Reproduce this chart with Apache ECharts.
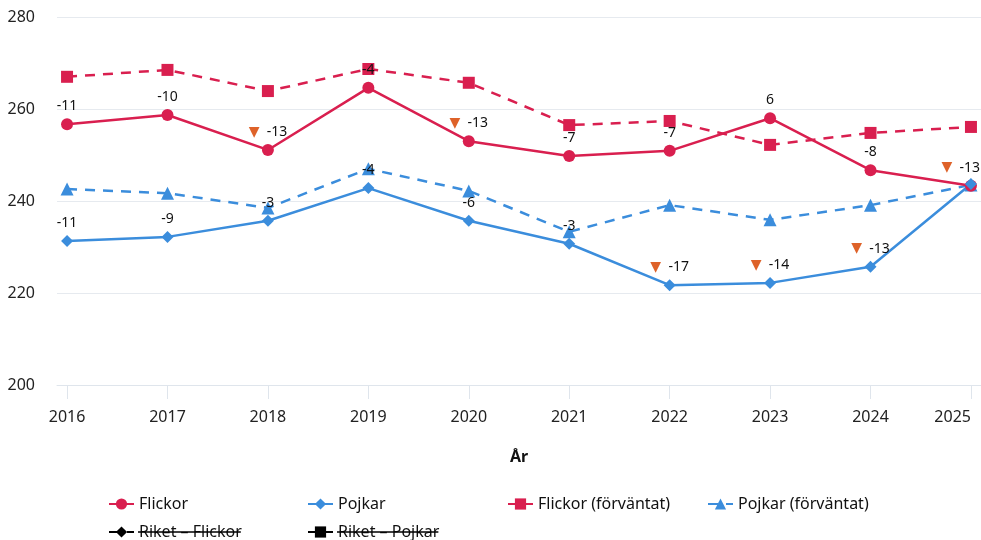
<!DOCTYPE html>
<html>
<head>
<meta charset="utf-8">
<script src="https://cdn.jsdelivr.net/npm/echarts@6/dist/echarts.min.js"></script>
<style>html,body{margin:0;padding:0;background:#fff;}#c{width:981px;height:540px;}</style>
</head>
<body>
<div id="c"></div>
<script>
var years = [2016, 2017, 2018, 2019, 2020, 2021, 2022, 2023, 2024, 2025];
var flickor = [256.7, 258.7, 251.1, 264.6, 253.0, 249.8, 250.9, 258.0, 246.7, 243.3];
var pojkar = [231.3, 232.2, 235.7, 242.8, 235.7, 230.7, 221.7, 222.2, 225.7, 243.7];
var flickorExp = [267.0, 268.5, 263.9, 268.7, 265.7, 256.5, 257.4, 252.2, 254.8, 256.1];
var pojkarExp = [242.6, 241.7, 238.5, 247.0, 242.2, 233.3, 239.1, 235.9, 239.1, 243.5];
var flickorDiff = [-11, -10, -13, -4, -13, -7, -7, 6, -8, -13];
var flickorSig = [0, 0, 1, 0, 1, 0, 0, 0, 0, 1];
var pojkarDiff = [-11, -9, -3, -4, -6, -3, -17, -14, -13, null];
var pojkarSig = [0, 0, 0, 0, 0, 0, 1, 1, 1, 0];
var yTicks = [200, 220, 240, 260, 280];
var legendRow1 = ['Flickor', 'Pojkar', 'Flickor (förväntat)', 'Pojkar (förväntat)'];
var legendRow2 = ['Riket – Flickor', 'Riket – Pojkar'];

var FONT = 'Noto Sans';
var RED = '#d91f4f', BLUE = '#3b8ddc', ORANGE = '#de6229';

function pts(vals, diffs, sig) {
  return years.map(function (y, i) {
    return { value: [y, vals[i]], diff: diffs ? diffs[i] : null, sig: sig ? sig[i] : 0 };
  });
}
function labelCfg() {
  return {
    show: true, position: 'top', distance: 5,
    fontFamily: FONT, fontSize: 14, color: '#111',
    formatter: function (p) {
      var d = p.data.diff;
      if (d === null || d === undefined) return '';
      return p.data.sig ? '{t|▼}  ' + d : '' + d;
    },
    rich: { t: { fontFamily: 'DejaVu Sans', fontSize: 14, color: ORANGE } }
  };
}
function keepInside(params) {
  var r = params.labelRect;
  if (r.x + r.width > 980) {
    return { x: 980, y: r.y + r.height / 2, align: 'right', verticalAlign: 'middle' };
  }
  return {};
}
var COLS = [108, 307, 507, 707];
var ROWS = [496, 524];
function leg(name, col, row) {
  return { left: COLS[col], top: ROWS[row], itemWidth: 25, itemHeight: 14, padding: 0, itemGap: 0,
    textStyle: { fontFamily: FONT, fontSize: 16, color: '#111' }, data: [name] };
}
var legends = [];
legendRow1.forEach(function (n, i) { legends.push(leg(n, i, 0)); });
legendRow2.forEach(function (n, i) { legends.push(leg(n, i, 1)); });

// strike-through for the inactive "Riket" entries
var cv = document.createElement('canvas').getContext('2d');
cv.font = '16px "' + FONT + '"';
var strikes = legendRow2.map(function (n, i) {
  var x0 = COLS[i] + 25 + 5;
  var w = cv.measureText(n).width;
  return { type: 'line', shape: { x1: x0, y1: 532, x2: x0 + w, y2: 532 },
    style: { stroke: '#000', lineWidth: 1.5 }, silent: true, z: 100 };
});

var chart = echarts.init(document.getElementById('c'), null, { renderer: 'canvas' });
chart.setOption({
  animation: false,
  textStyle: { fontFamily: FONT },
  grid: { left: 57, right: 0, top: 17, bottom: 155, containLabel: false, outerBoundsMode: 'none' },
  xAxis: {
    type: 'value', min: 2015.9, max: 2025.1,
    name: 'År', nameLocation: 'middle', nameGap: 64,
    nameTextStyle: { fontFamily: FONT, fontSize: 16, fontWeight: 'bold', color: '#111' },
    axisLine: { show: true, lineStyle: { color: '#dfe5ec', width: 1 } },
    axisTick: { show: true, length: 14, lineStyle: { color: '#dfe5ec' }, customValues: years },
    axisLabel: { fontFamily: FONT, fontSize: 16, color: '#222', margin: 24, customValues: years,
      alignMaxLabel: 'right',
      formatter: function (v) { return String(v); } },
    splitLine: { show: false }
  },
  yAxis: {
    type: 'value', min: 200, max: 280, interval: 20,
    axisLine: { show: false }, axisTick: { show: false },
    axisLabel: { fontFamily: FONT, fontSize: 16, color: '#222', margin: 22 },
    splitLine: { lineStyle: { color: '#e6eaef', width: 1 } }
  },
  legend: legends,
  graphic: strikes,
  series: [
    { name: 'Flickor (förväntat)', type: 'line', data: pts(flickorExp), symbol: 'rect', symbolSize: 12,
      lineStyle: { color: RED, width: 2.5, type: [10, 8] }, itemStyle: { color: RED }, z: 2 },
    { name: 'Pojkar (förväntat)', type: 'line', data: pts(pojkarExp), symbol: 'triangle', symbolSize: 13,
      lineStyle: { color: BLUE, width: 2.5, type: [10, 8] }, itemStyle: { color: BLUE }, z: 2 },
    { name: 'Flickor', type: 'line', data: pts(flickor, flickorDiff, flickorSig), symbol: 'circle', symbolSize: 12,
      lineStyle: { color: RED, width: 2.5 }, itemStyle: { color: RED }, label: labelCfg(), labelLayout: keepInside, z: 3 },
    { name: 'Pojkar', type: 'line', data: pts(pojkar, pojkarDiff, pojkarSig), symbol: 'diamond', symbolSize: 12,
      lineStyle: { color: BLUE, width: 2.5 }, itemStyle: { color: BLUE }, label: labelCfg(), labelLayout: keepInside, z: 3 },
    { name: 'Riket – Flickor', type: 'line', data: [], symbol: 'diamond', symbolSize: 12,
      lineStyle: { color: '#000', width: 2.5, type: [10, 8] }, itemStyle: { color: '#000' } },
    { name: 'Riket – Pojkar', type: 'line', data: [], symbol: 'rect', symbolSize: 12,
      lineStyle: { color: '#000', width: 2.5, type: [10, 8] }, itemStyle: { color: '#000' } }
  ]
});
</script>
</body>
</html>
